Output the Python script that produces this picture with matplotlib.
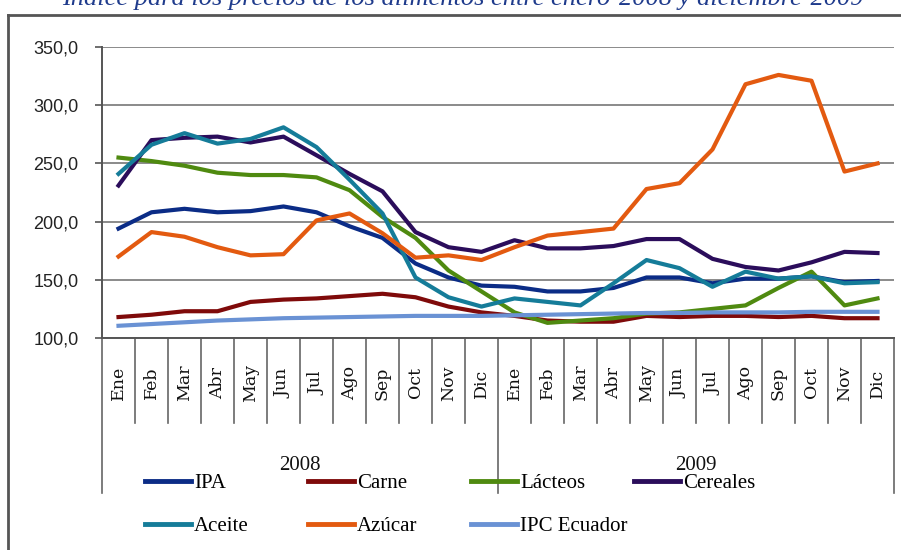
import matplotlib.pyplot as plt
from matplotlib.lines import Line2D
import matplotlib.transforms as mtransforms

months = ['Ene', 'Feb', 'Mar', 'Abr', 'May', 'Jun', 'Jul', 'Ago', 'Sep', 'Oct', 'Nov', 'Dic'] * 2
years = ['2008', '2009']

ipa = [194, 208, 211, 208, 209, 213, 208, 196, 186, 164, 152, 145,
       144, 140, 140, 143, 152, 152, 147, 151, 151, 153, 148, 149]
carne = [118, 120, 123, 123, 131, 133, 134, 136, 138, 135, 127, 122,
         119, 115, 114, 114, 119, 118, 119, 119, 118, 119, 117, 117]
lacteos = [255, 252, 248, 242, 240, 240, 238, 227, 204, 186, 158, 140,
           122, 113, 115, 117, 121, 122, 125, 128, 143, 157, 128, 134]
cereales = [231, 270, 272, 273, 268, 273, 257, 241, 226, 191, 178, 174,
            184, 177, 177, 179, 185, 185, 168, 161, 158, 165, 174, 173]
aceite = [241, 266, 276, 267, 271, 281, 264, 236, 207, 152, 135, 127,
          134, 131, 128, 147, 167, 160, 144, 157, 151, 153, 147, 148]
azucar = [170, 191, 187, 178, 171, 172, 201, 207, 190, 169, 171, 167,
          178, 188, 191, 194, 228, 233, 262, 318, 326, 321, 243, 250]
ipc = [110.5, 112, 113.5, 115, 116, 117, 117.5, 118, 118.5, 119, 119, 119,
       119.5, 120, 120.5, 121, 121.5, 121.5, 122, 122, 122, 122.5, 122.5, 122.5]

series_names = ['IPA', 'Carne', 'Lácteos', 'Cereales', 'Aceite', 'Azúcar', 'IPC Ecuador']
series_values = [ipa, carne, lacteos, cereales, aceite, azucar, ipc]
series_colors = ['#0B2C86', '#7F0A0A', '#4F8A10', '#2B0D5B', '#157C99', '#E35A10', '#6A92D4']

W, H = 901, 550
fig = plt.figure(figsize=(W / 100, H / 100), dpi=100)

# plot area in pixels: x 102..894, y 47..338
ax = fig.add_axes([102 / W, 1 - 338 / H, 792 / W, 291 / H])

x = list(range(len(months)))
for name, vals, col in zip(series_names, series_values, series_colors):
    ax.plot(x, vals, color=col, lw=3, label=name, solid_joinstyle='round')

ax.set_xlim(-0.5, len(months) - 0.5)
ax.set_ylim(100, 350)
ax.set_yticks(range(100, 351, 50))
ax.set_yticklabels([f'{v},0' for v in range(100, 351, 50)],
                   family='Liberation Sans', fontsize=13, color='#222222')
ax.yaxis.grid(True, color='#8a8a8a', lw=1.4)
ax.set_axisbelow(True)
ax.tick_params(axis='y', direction='out', length=5, width=1.2, color='#555555', pad=12)
ax.set_xticks([])
for s in ['top', 'right']:
    ax.spines[s].set_visible(False)
for s in ['left', 'bottom']:
    ax.spines[s].set_color('#555555')
    ax.spines[s].set_linewidth(1.4)

# category separators and labels below the axis
trans = mtransforms.blended_transform_factory(ax.transData, ax.transAxes)
px = 1 / 291
for i in range(len(months) + 1):
    edge = i - 0.5
    depth = -155 * px if i % 12 == 0 else -85 * px
    ax.plot([edge, edge], [0, depth], color='#666666', lw=1.2,
            transform=trans, clip_on=False)
for i, m in enumerate(months):
    ax.text(i, -45 * px, m, rotation=90, ha='center', va='center',
            family='DejaVu Serif', fontsize=12.5, color='#111111',
            transform=trans)
for j, yr in enumerate(years):
    ax.text(j * 12 + 5.5, -127 * px, yr, ha='center', va='center',
            family='Liberation Serif', fontsize=15, color='#111111',
            transform=trans)

# legend: one entry per slot, 4 columns x 2 rows
for i, (name, col) in enumerate(zip(series_names, series_colors)):
    cx = 145 + (i % 4) * 163
    cy = 483 + (i // 4) * 43
    h = Line2D([], [], color=col, lw=3.5)
    leg = fig.legend([h], [name], loc='center left',
                     bbox_to_anchor=(cx / W, 1 - cy / H),
                     frameon=False, handlelength=2.2, handletextpad=0.15,
                     borderpad=0, borderaxespad=0,
                     prop={'family': 'Liberation Serif', 'size': 15})

# outer frame (partially cropped)
fig.add_artist(Line2D([8 / W, 8 / W], [0, 1 - 15 / H], color='#555555', lw=2,
                      transform=fig.transFigure))
fig.add_artist(Line2D([8 / W, 1], [1 - 15 / H, 1 - 15 / H], color='#555555', lw=2,
                      transform=fig.transFigure))

fig.text(463 / W, 1 - 5 / H,
         'Índice para los precios de los alimentos entre enero-2008 y diciembre-2009',
         ha='center', va='baseline', family='Liberation Serif', style='italic',
         fontsize=19, color='#1F3B8C')

fig.savefig('out.png', dpi=100)
